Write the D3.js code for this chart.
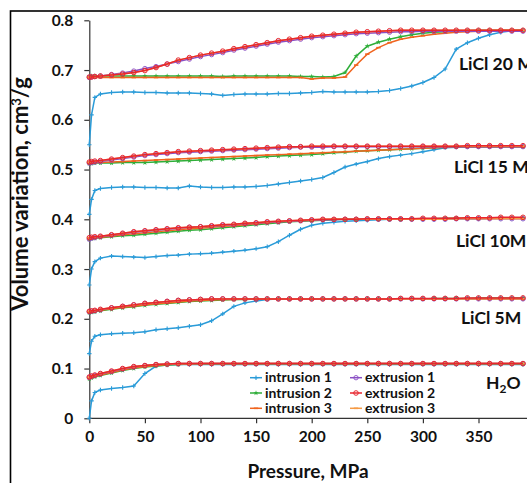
<!DOCTYPE html>
<html><head><meta charset="utf-8">
<script src="https://cdn.jsdelivr.net/npm/d3@7"></script>
<style>
html,body{margin:0;padding:0;background:#fff;overflow:hidden}
text{font-family:Lato,"Open Sans",sans-serif;font-weight:700;fill:#111}
</style></head><body>
<svg id="c" width="527" height="483"></svg>
<script>
// pressure grid (MPa) shared by all series
const pressure = [0,2,5,10,20,30,40,50,60,70,80,90,100,110,120,130,140,150,160,170,180,190,200,210,220,230,240,250,260,270,280,290,300,310,320,330,340,350,360,370,380,390];

// ---------- H2O ----------
const h2o_int1 = [0,.035,.052,.057,.06,.062,.065,.09,.105,.107,.108,.108,.108,.108,.108,.108,.108,.108,.108,.108,.108,.108,.108,.108,.108,.108,.108,.108,.108,.108,.108,.108,.108,.108,.108,.108,.108,.108,.108,.108,.108,.108];
const h2o_int2 = [.079,.081,.083,.086,.091,.096,.1,.103,.105,.107,.108,.109,.109,.109,.109,.109,.109,.109,.109,.109,.109,.109,.109,.109,.109,.109,.109,.109,.109,.109,.109,.109,.109,.109,.109,.109,.109,.109,.109,.109,.109,.109];
const h2o_int3 = [.08,.082,.084,.087,.092,.097,.101,.104,.106,.108,.109,.109,.11,.11,.11,.11,.11,.11,.11,.11,.11,.11,.11,.11,.11,.11,.11,.11,.11,.11,.11,.11,.11,.11,.11,.11,.11,.11,.11,.11,.11,.11];
const h2o_ext1 = [.082,.084,.086,.089,.094,.099,.103,.106,.108,.109,.11,.11,.11,.11,.11,.11,.11,.11,.11,.11,.11,.11,.11,.11,.11,.11,.11,.11,.11,.11,.11,.11,.11,.11,.11,.11,.11,.11,.11,.11,.11,.11];
const h2o_ext2 = [.083,.085,.087,.09,.095,.1,.104,.106,.108,.109,.11,.11,.11,.11,.11,.11,.11,.11,.11,.11,.11,.11,.11,.11,.11,.11,.11,.11,.11,.11,.11,.11,.11,.11,.11,.11,.11,.11,.11,.11,.11,.11];
const h2o_ext3 = [.083,.085,.087,.09,.095,.1,.104,.106,.108,.109,.11,.11,.11,.11,.11,.11,.11,.11,.11,.11,.11,.11,.11,.11,.11,.11,.11,.11,.11,.11,.11,.11,.11,.11,.11,.11,.11,.11,.11,.11,.11,.11];

// ---------- LiCl 5M ----------
const m5_int1 = [.13,.155,.165,.168,.17,.171,.172,.174,.178,.18,.182,.185,.188,.196,.21,.225,.232,.236,.239,.24,.24,.24,.24,.24,.24,.24,.24,.24,.24,.24,.24,.24,.24,.24,.24,.24,.24,.24,.24,.24,.24,.24];
const m5_int2 = [.212,.213,.214,.216,.219,.222,.224,.227,.229,.231,.233,.235,.236,.237,.238,.239,.239,.24,.24,.24,.24,.24,.24,.24,.24,.24,.24,.24,.24,.24,.24,.24,.24,.241,.241,.241,.241,.242,.242,.242,.242,.242];
const m5_int3 = [.213,.214,.215,.217,.22,.223,.225,.228,.23,.232,.234,.236,.237,.238,.239,.239,.24,.24,.24,.24,.24,.24,.24,.24,.24,.24,.24,.24,.24,.24,.24,.24,.24,.24,.24,.24,.24,.24,.24,.24,.24,.24];
const m5_ext1 = [.214,.215,.216,.218,.222,.225,.228,.231,.233,.235,.237,.238,.239,.24,.24,.24,.24,.24,.24,.24,.24,.24,.24,.24,.24,.24,.24,.24,.24,.24,.24,.24,.24,.24,.24,.24,.24,.24,.24,.24,.24,.24];
const m5_ext2 = [.215,.216,.217,.219,.222,.225,.228,.231,.233,.235,.237,.238,.239,.24,.24,.24,.24,.24,.24,.24,.24,.24,.24,.24,.24,.24,.24,.24,.24,.24,.241,.241,.241,.241,.241,.241,.242,.242,.242,.242,.242,.242];
const m5_ext3 = [.215,.216,.217,.219,.222,.225,.228,.231,.233,.235,.237,.238,.239,.24,.24,.24,.24,.24,.24,.24,.24,.24,.24,.24,.24,.24,.24,.24,.24,.24,.24,.24,.24,.24,.24,.24,.24,.24,.24,.24,.24,.24];

// ---------- LiCl 10M ----------
const m10_int1 = [.268,.3,.315,.322,.326,.325,.324,.323,.325,.327,.328,.33,.331,.332,.334,.336,.338,.341,.345,.355,.368,.38,.388,.392,.394,.396,.397,.398,.399,.4,.4,.4,.4,.4,.4,.401,.401,.401,.402,.402,.402,.402];
const m10_int2 = [.36,.361,.362,.363,.365,.367,.368,.37,.372,.374,.376,.378,.379,.381,.383,.385,.387,.389,.391,.393,.395,.396,.397,.398,.399,.4,.4,.4,.4,.4,.4,.401,.401,.401,.402,.402,.402,.402,.403,.403,.403,.403];
const m10_int3 = [.361,.362,.363,.364,.366,.369,.371,.373,.375,.377,.379,.381,.382,.384,.386,.387,.389,.391,.393,.395,.396,.397,.398,.399,.4,.4,.4,.4,.4,.4,.4,.4,.401,.401,.401,.402,.402,.402,.402,.402,.402,.402];
const m10_ext1 = [.36,.362,.363,.365,.368,.371,.374,.376,.378,.38,.382,.384,.385,.386,.388,.389,.391,.392,.394,.395,.396,.397,.398,.399,.399,.4,.4,.4,.4,.4,.4,.4,.4,.4,.4,.401,.401,.401,.401,.401,.401,.401];
const m10_ext2 = [.363,.364,.365,.366,.369,.372,.375,.377,.379,.381,.383,.384,.385,.387,.389,.39,.392,.393,.395,.396,.397,.398,.399,.4,.4,.4,.4,.401,.401,.401,.401,.401,.402,.402,.402,.402,.403,.403,.403,.404,.404,.404];
const m10_ext3 = [.363,.364,.365,.366,.369,.372,.375,.377,.379,.381,.383,.384,.385,.387,.389,.39,.392,.393,.395,.396,.397,.398,.399,.4,.4,.4,.4,.4,.4,.4,.4,.4,.4,.4,.4,.401,.401,.401,.401,.401,.401,.401];

// ---------- LiCl 15M ----------
const m15_int1 = [.41,.44,.458,.462,.464,.465,.465,.464,.464,.463,.463,.467,.465,.464,.464,.465,.465,.466,.468,.471,.474,.477,.48,.484,.494,.505,.511,.516,.522,.526,.529,.532,.536,.54,.544,.545,.546,.546,.546,.546,.546,.546];
const m15_int2 = [.512,.512,.513,.513,.513,.514,.514,.514,.515,.516,.517,.518,.519,.52,.521,.522,.523,.524,.526,.527,.528,.529,.53,.532,.534,.535,.537,.538,.539,.54,.541,.542,.543,.544,.545,.546,.546,.546,.546,.546,.546,.546];
const m15_int3 = [.513,.513,.514,.514,.515,.516,.517,.518,.519,.52,.521,.522,.523,.524,.525,.526,.527,.528,.529,.53,.531,.532,.533,.534,.535,.536,.537,.538,.539,.54,.541,.542,.543,.544,.545,.546,.546,.546,.546,.546,.546,.546];
const m15_ext1 = [.513,.514,.515,.516,.519,.522,.525,.528,.53,.532,.534,.535,.536,.537,.538,.539,.54,.541,.542,.543,.544,.545,.545,.545,.546,.546,.546,.546,.546,.546,.546,.546,.546,.546,.546,.546,.546,.546,.546,.546,.546,.546];
const m15_ext2 = [.515,.516,.517,.518,.521,.524,.527,.53,.532,.534,.536,.537,.538,.539,.54,.541,.542,.543,.544,.545,.546,.546,.547,.547,.547,.547,.547,.547,.547,.547,.547,.547,.547,.547,.547,.547,.548,.548,.548,.548,.548,.548];
const m15_ext3 = [.515,.516,.517,.518,.521,.524,.527,.53,.532,.534,.536,.537,.538,.539,.54,.541,.542,.543,.544,.545,.546,.546,.547,.547,.547,.547,.547,.547,.547,.547,.547,.547,.547,.547,.547,.547,.547,.547,.547,.547,.547,.547];

// ---------- LiCl 20M ----------
const m20_int1 = [.55,.61,.645,.652,.655,.656,.656,.655,.655,.654,.654,.654,.653,.652,.649,.651,.652,.652,.652,.653,.653,.654,.655,.657,.656,.656,.656,.656,.657,.659,.663,.668,.675,.685,.702,.742,.755,.764,.771,.776,.779,.78];
const m20_int2 = [.687,.688,.688,.688,.688,.688,.688,.688,.688,.688,.688,.688,.688,.688,.687,.688,.688,.688,.688,.688,.688,.687,.687,.686,.687,.695,.728,.748,.756,.762,.767,.771,.774,.776,.777,.778,.779,.78,.78,.78,.78,.78];
const m20_int3 = [.684,.684,.685,.685,.685,.685,.685,.685,.685,.685,.685,.685,.685,.685,.685,.685,.685,.685,.685,.685,.685,.685,.682,.684,.684,.686,.71,.732,.745,.755,.762,.766,.769,.772,.774,.776,.777,.778,.779,.78,.78,.78];
const m20_ext1 = [.685,.686,.687,.688,.691,.694,.698,.703,.707,.712,.717,.722,.727,.731,.735,.74,.744,.748,.752,.756,.759,.762,.765,.767,.769,.771,.773,.774,.775,.776,.777,.777,.778,.778,.778,.778,.778,.778,.778,.778,.778,.778];
const m20_ext2 = [.686,.686,.687,.688,.69,.692,.695,.699,.705,.712,.72,.725,.73,.734,.738,.743,.747,.751,.755,.759,.762,.765,.768,.77,.772,.774,.776,.777,.778,.779,.78,.78,.78,.78,.78,.78,.78,.78,.78,.78,.78,.78];
const m20_ext3 = [.686,.686,.687,.688,.69,.692,.695,.699,.705,.712,.72,.725,.73,.734,.738,.743,.747,.751,.755,.759,.762,.765,.768,.77,.772,.774,.776,.777,.778,.779,.78,.78,.78,.78,.78,.78,.78,.78,.78,.78,.78,.78];

const seriesNames = ["intrusion 1","intrusion 2","intrusion 3","extrusion 1","extrusion 2","extrusion 3"];
const seriesColors = ["#2a9bd8","#2fae3a","#f0641e","#8a4fc4","#e8262e","#f59a45"];
const curveLabels = ["H\u2082O","LiCl 5M","LiCl 10M","LiCl 15 M","LiCl 20 M"];
const xTicks = [0,50,100,150,200,250,300,350];
const yTicks = [0,0.1,0.2,0.3,0.4,0.5,0.6,0.7,0.8];

const groups = [
  [h2o_int1,h2o_int2,h2o_int3,h2o_ext1,h2o_ext2,h2o_ext3],
  [m5_int1,m5_int2,m5_int3,m5_ext1,m5_ext2,m5_ext3],
  [m10_int1,m10_int2,m10_int3,m10_ext1,m10_ext2,m10_ext3],
  [m15_int1,m15_int2,m15_int3,m15_ext1,m15_ext2,m15_ext3],
  [m20_int1,m20_int2,m20_int3,m20_ext1,m20_ext2,m20_ext3]
];

const svg = d3.select("#c");
const x = d3.scaleLinear().domain([0,350]).range([89.3, 89.3+350*1.112]);
const y = d3.scaleLinear().domain([0,0.8]).range([418.3, 20.3]);

// frame
svg.append("rect").attr("x",10.5).attr("y",11).attr("width",700).attr("height",700)
  .attr("fill","none").attr("stroke","#000").attr("stroke-width",1.6);

// axes
const xAxis = svg.append("g").attr("transform",`translate(0,${y(0)})`)
  .call(d3.axisBottom(x).tickValues(xTicks).tickSize(5).tickSizeOuter(0).tickPadding(8));
xAxis.select(".domain").attr("d",`M${x(0)},0H540`);
const yAxis = svg.append("g").attr("transform",`translate(${x(0)},0)`)
  .call(d3.axisLeft(y).tickValues(yTicks).tickSize(5).tickSizeOuter(0).tickPadding(11)
  .tickFormat(d=> d===0 ? "0" : d3.format(".1f")(d)));
[xAxis,yAxis].forEach(a=>{
  a.selectAll(".domain").attr("stroke","#333").attr("stroke-width",1.2);
  a.selectAll(".tick line").attr("stroke","#333").attr("stroke-width",1.2);
  a.selectAll("text").style("font-size","15.5px").style("font-family","Lato, sans-serif").style("font-weight","700").attr("fill","#111");
});

// axis titles
svg.append("text").attr("x",308).attr("y",478).attr("text-anchor","middle")
  .style("font-size","19px").text("Pressure, MPa");
const yl = svg.append("text").attr("transform","translate(28,194) rotate(-90)").attr("text-anchor","middle")
  .style("font-size","22px");
yl.append("tspan").text("Volume variation, cm");
yl.append("tspan").attr("dy",-7).style("font-size","13px").text("3");
yl.append("tspan").attr("dy",7).text("/g");

// markers
function marker(sel, i, col){
  if(i===0){ // plus
    sel.append("path").attr("d","M-2.2,0H2.2M0,-2.2V2.2").attr("stroke",col).attr("stroke-width",1.1).attr("fill","none");
  } else if(i===1){
    sel.append("path").attr("d",d3.symbol(d3.symbolStar,9)()).attr("fill",col);
  } else if(i===2 || i===5){
    sel.append("path").attr("d","M-2.2,0H2.2").attr("stroke",col).attr("stroke-width",1.6);
  } else if(i===3){
    sel.append("circle").attr("r",2.2).attr("fill","none").attr("stroke",col).attr("stroke-width",0.9);
  } else {
    sel.append("circle").attr("r",2.3).attr("fill","none").attr("stroke",col).attr("stroke-width",1);
  }
}

const line = d3.line().x((d,i)=>x(pressure[i])).y(d=>y(d));
const drawOrder = [0,1,2,3,5,4];
const plot = svg.append("g");
groups.forEach(g=>{
  drawOrder.forEach(si=>{
    const vals = g[si], col = seriesColors[si];
    plot.append("path").datum(vals).attr("d",line).attr("fill","none")
      .attr("stroke",col).attr("stroke-width",1.5);
    vals.forEach((v,k)=>{
      const m = plot.append("g").attr("transform",`translate(${x(pressure[k])},${y(v)})`);
      marker(m, si, col);
    });
  });
});

// curve labels (the two longest run past the right edge in the reference too)
const labelPos = [[486,389],[461,324],[456,247],[454,173],[459,70]];
curveLabels.forEach((t,i)=>{
  const tx = svg.append("text").attr("x",labelPos[i][0]).attr("y",labelPos[i][1]).style("font-size","17.5px");
  if(t.indexOf("\u2082")>=0){
    tx.append("tspan").text("H");
    tx.append("tspan").attr("dy",4).style("font-size","12px").text("2");
    tx.append("tspan").attr("dy",-4).text("O");
  } else tx.text(t);
});

// legend
const lg = svg.append("g");
seriesNames.forEach((n,i)=>{
  const col = Math.floor(i/3), row = i%3;
  const lx = col===0 ? 250 : 350, ly = 377.7 + row*15.3;
  lg.append("line").attr("x1",lx).attr("x2",lx+12).attr("y1",ly).attr("y2",ly)
    .attr("stroke",seriesColors[i]).attr("stroke-width",1.5);
  marker(lg.append("g").attr("transform",`translate(${lx+6},${ly})`), i, seriesColors[i]);
  lg.append("text").attr("x",lx+15).attr("y",ly+4.5).style("font-size","14px").text(n);
});
</script></body></html>
